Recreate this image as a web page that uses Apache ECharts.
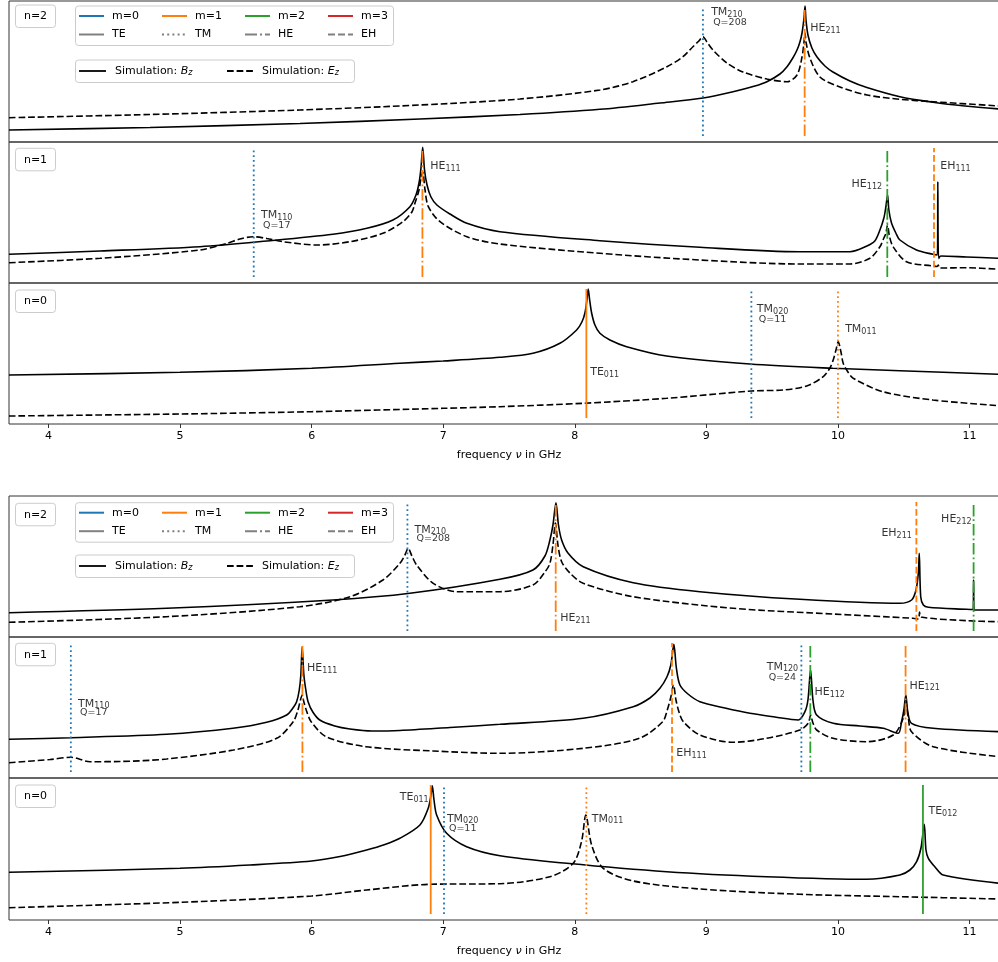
<!DOCTYPE html>
<html><head><meta charset="utf-8">
<script src="https://cdn.jsdelivr.net/npm/echarts@6/dist/echarts.min.js"></script>
<style>html,body{margin:0;padding:0;background:#fff}#c{width:998px;height:962px}</style>
</head><body><div id="c"></div>
<script>
// ================= DATA =================
const xTicks = [4, 5, 6, 7, 8, 9, 10, 11];
const panelLabels = ['n=2', 'n=1', 'n=0', 'n=2', 'n=1', 'n=0'];
const legendM = ['m=0', 'm=1', 'm=2', 'm=3'];
const legendKinds = ['TE', 'TM', 'HE', 'EH'];

// ---- upper figure ----
const up_n2_Bz = [[3.700,12],[4.771,14.5],[5.911,18.5],[6.823,23],[7.583,27.5],[8.191,32.7],[8.647,39],[8.974,44],[9.202,50.3],[9.369,56],[9.460,60.3],[9.559,68],[9.613,75.3],[9.657,84],[9.689,92],[9.711,100],[9.727,109],[9.742,124],[9.750,136],[9.757,122],[9.772,107],[9.802,94],[9.841,85],[9.901,76],[9.962,70],[10.091,61],[10.220,54.5],[10.471,45.3],[10.722,39.8],[10.964,36],[11.23,33]];
const up_n2_Ez = [[3.700,24.3],[4.771,27.5],[5.911,32],[6.823,37],[7.583,43],[8.191,52],[8.442,60.3],[8.700,75.3],[8.822,85.3],[8.898,95.3],[8.943,101],[8.974,105.3],[9.004,100],[9.050,92],[9.156,79],[9.278,70],[9.460,63],[9.613,60.3],[9.689,67],[9.727,85],[9.742,100],[9.750,109],[9.757,100],[9.787,84],[9.863,65],[10.015,55],[10.220,47],[10.471,42.7],[10.722,40.3],[11.23,36]];
const up_n1_Bz = [[3.700,28.7],[4.392,32],[5.151,36.3],[5.660,42],[6.162,48.7],[6.420,54.7],[6.618,63],[6.747,76.3],[6.793,88],[6.816,100],[6.831,115],[6.844,135.7],[6.858,113],[6.877,98],[6.907,86],[6.952,78],[7.051,69],[7.180,59.7],[7.431,51.3],[8.191,42.3],[8.951,35.7],[9.711,31.3],[10.091,31.3],[10.220,37],[10.280,42],[10.319,53],[10.349,65],[10.364,76],[10.377,88],[10.387,73],[10.407,60],[10.440,50],[10.471,43],[10.597,33],[10.722,28.7],[10.756,28],[10.759,101.3],[10.765,24.5],[10.782,27],[10.977,26],[11.23,24.7]];
const up_n1_Ez = [[3.700,20.3],[4.392,24.7],[5.151,33],[5.357,39.7],[5.455,44],[5.554,46.3],[5.660,44.5],[5.782,41.3],[6.040,38],[6.291,41.3],[6.542,49.7],[6.694,61.3],[6.762,71],[6.785,79.7],[6.816,93],[6.831,105],[6.844,111],[6.862,93],[6.887,76.3],[6.976,61.3],[7.180,46.3],[7.431,39],[8.191,29.7],[8.951,23],[9.711,19],[10.091,19],[10.243,24.7],[10.319,36.3],[10.349,45],[10.364,49.7],[10.377,58],[10.391,47],[10.419,36.3],[10.521,21.3],[10.722,17],[10.752,16.5],[10.763,18],[10.771,15],[10.977,15.3],[11.23,13.7]];
const up_n0_Bz = [[3.700,49],[4.999,51.7],[6.000,55.7],[6.671,60.7],[6.998,63],[7.431,66.7],[7.682,70.7],[7.887,80.7],[8.014,94],[8.054,102],[8.077,111],[8.092,124],[8.102,135],[8.113,124],[8.128,111],[8.153,99],[8.191,90.7],[8.267,84],[8.394,77.3],[8.698,68],[9.331,60],[9.961,55.7],[10.471,53.3],[11.23,49.7]];
const up_n0_Ez = [[3.700,8],[4.999,10],[6.000,12.3],[6.998,15.7],[7.431,17.3],[8.062,20.7],[8.698,25.7],[9.344,33],[9.582,34],[9.762,38],[9.888,47.3],[9.939,56],[9.964,64],[9.985,74],[10.002,82.3],[10.023,72],[10.040,60.7],[10.076,52],[10.116,45.7],[10.341,32.3],[10.721,24],[11.23,18.3]];

// ---- lower figure ----
const lo_n2_Bz = [[3.700,24.3],[4.898,28.7],[6.162,37],[6.747,43.7],[7.431,57.7],[7.682,67],[7.773,81],[7.811,97],[7.834,112],[7.857,134.3],[7.876,112],[7.900,97],[7.948,84],[8.064,70.3],[8.444,54.3],[8.951,45.3],[9.711,37.7],[10.471,33.7],[10.560,37],[10.593,47],[10.611,64],[10.618,83.7],[10.629,40.3],[10.649,32],[10.687,29.7],[10.977,27.7],[11.028,27.5],[11.031,57],[11.035,27],[11.23,27]];
const lo_n2_Ez = [[3.700,14.7],[4.898,20.3],[5.911,30.3],[6.291,40.3],[6.542,57],[6.671,73.7],[6.709,82],[6.734,88.7],[6.762,81],[6.798,72],[6.924,53.7],[7.102,45.3],[7.431,45.3],[7.682,52],[7.773,65],[7.811,73.7],[7.834,92],[7.853,114],[7.872,92],[7.900,75.3],[7.963,64],[8.064,53.7],[8.444,40.3],[9.204,28.7],[9.961,23],[10.570,18.7],[10.612,18],[10.620,25],[10.631,20],[10.977,16.3],[11.23,15.3]];
const lo_n1_Bz = [[3.700,38.7],[4.171,40.3],[4.898,43.7],[5.402,49.7],[5.658,55.7],[5.810,63],[5.858,70],[5.886,76.3],[5.906,88],[5.918,103],[5.928,131.3],[5.941,103],[5.956,88],[5.973,76.3],[6.009,66],[6.062,58],[6.176,52],[6.291,49],[6.458,47],[6.671,47.5],[7.051,50.5],[7.431,53.7],[8.064,59.7],[8.444,71.3],[8.571,80],[8.647,89.7],[8.700,101],[8.730,113],[8.753,133.7],[8.772,110],[8.799,93],[8.860,84],[8.951,76.3],[9.141,70],[9.331,64.7],[9.521,61],[9.698,58],[9.749,66.3],[9.772,78],[9.792,108],[9.810,78],[9.838,63],[9.964,54.7],[10.167,52],[10.344,49.7],[10.458,44.7],[10.483,56],[10.501,68],[10.516,83],[10.531,66],[10.559,54.7],[10.724,49.7],[11.23,46.3]];
const lo_n1_Ez = [[3.700,15.3],[4.012,18.5],[4.171,20.7],[4.316,16.3],[4.543,16.5],[4.898,19],[5.405,28],[5.734,39.7],[5.860,56.3],[5.896,68],[5.915,78],[5.928,83],[5.941,76],[5.964,66],[5.996,56.3],[6.110,41.3],[6.414,31.3],[6.924,27],[7.431,24.7],[8.064,29.7],[8.491,39.7],[8.668,56.3],[8.703,68],[8.730,81],[8.750,93],[8.769,78],[8.792,66],[8.825,56.3],[8.951,43],[9.204,35.7],[9.458,39.7],[9.711,48],[9.774,54.7],[9.792,63],[9.810,55],[9.838,48],[9.962,39.7],[10.217,36.3],[10.420,43],[10.496,59.7],[10.516,75],[10.535,60],[10.559,46.3],[10.724,31.3],[11.23,21.3]];
const lo_n0_Bz = [[3.700,47.7],[4.999,51.7],[5.532,55],[6.000,59],[6.216,63.5],[6.418,70],[6.557,75.5],[6.671,81.7],[6.823,95],[6.886,111.7],[6.907,125],[6.917,134.3],[6.930,120],[6.950,105],[7.026,86.7],[7.178,73.3],[7.431,64.3],[7.938,56.7],[8.698,48.3],[9.458,43.3],[10.217,40.7],[10.471,45],[10.547,50],[10.598,58.3],[10.631,72],[10.656,95.7],[10.669,70],[10.687,61.7],[10.738,53],[10.800,45],[11.23,36.7]];
const lo_n0_Ez = [[3.700,12.3],[4.999,17.7],[6.000,24],[6.418,30],[6.899,35.7],[7.431,36.3],[7.811,43.3],[7.988,56.7],[8.051,78.3],[8.084,105],[8.128,75],[8.216,51.7],[8.444,39],[8.951,31],[9.711,25.7],[10.471,23.3],[11.23,21]];

// ---- resonance modes (frequency GHz, m index, family, subscript, Q) ----
const up_n2_modes = [{f:8.974,m:0,kind:'TM',idx:'210',q:'Q=208'},{f:9.747,m:1,kind:'HE',idx:'211'}];
const up_n1_modes = [{f:5.560,m:0,kind:'TM',idx:'110',q:'Q=17'},{f:6.842,m:1,kind:'HE',idx:'111'},{f:10.375,m:2,kind:'HE',idx:'112'},{f:10.730,m:1,kind:'EH',idx:'111'}];
const up_n0_modes = [{f:8.088,m:1,kind:'TE',idx:'011'},{f:9.342,m:0,kind:'TM',idx:'020',q:'Q=11'},{f:10.000,m:1,kind:'TM',idx:'011'}];
const lo_n2_modes = [{f:6.728,m:0,kind:'TM',idx:'210',q:'Q=208'},{f:7.855,m:1,kind:'HE',idx:'211'},{f:10.596,m:1,kind:'EH',idx:'211'},{f:11.031,m:2,kind:'HE',idx:'212'}];
const lo_n1_modes = [{f:4.170,m:0,kind:'TM',idx:'110',q:'Q=17'},{f:5.930,m:1,kind:'HE',idx:'111'},{f:8.739,m:1,kind:'EH',idx:'111'},{f:9.722,m:0,kind:'TM',idx:'120',q:'Q=24'},{f:9.790,m:2,kind:'HE',idx:'112'},{f:10.514,m:1,kind:'HE',idx:'121'}];
const lo_n0_modes = [{f:6.905,m:1,kind:'TE',idx:'011'},{f:7.006,m:0,kind:'TM',idx:'020',q:'Q=11'},{f:8.088,m:1,kind:'TM',idx:'011'},{f:10.646,m:2,kind:'TE',idx:'012'}];

// ================= LAYOUT / STYLE =================
const FONT = 'DejaVu Sans';
const X_MIN = 3.7, X_MAX = 11.3;
const GRID_LEFT = 9, GRID_W = 1000;
const gridTops = [1, 142, 283, 496, 637, 778];
const gridHs = [141, 141, 141, 141, 141, 142];
const modeSpan = [6, 135];
const colorsM = ['#1f77b4', '#ff7f0e', '#2ca02c', '#d62728'];
const dashKind = { TE: 'solid', TM: [1.8, 3.0], HE: [11.5, 2.9, 1.8, 2.9], EH: [6.7, 2.9] };
const EZ_DASH = [6.7, 2.9];

// label placement per mode (side, distance px, text-centre level, Q-line level)
const placements = [
  [{s:'right',d:7.7,h:129.5,qh:119.5},{s:'right',d:5,h:113.8}],
  [{s:'right',d:6.7,h:68,qh:57.5},{s:'right',d:7.3,h:117},{s:'left',d:4.7,h:99},{s:'right',d:5.7,h:117}],
  [{s:'right',d:3.3,h:52},{s:'right',d:5,h:115,qh:104},{s:'right',d:6.7,h:95}],
  [{s:'right',d:6.6,h:107.3,qh:98},{s:'right',d:4,h:19},{s:'left',d:4,h:104},{s:'left',d:1.5,h:118}],
  [{s:'right',d:6.7,h:74.3,qh:65.2},{s:'right',d:4,h:109.5},{s:'right',d:3.7,h:24.5},{s:'left',d:2.7,h:111.3,qh:100.8},{s:'right',d:3.6,h:85.5},{s:'right',d:3.3,h:92.2}],
  [{s:'left',d:1.5,h:123},{s:'right',d:2.4,h:101.3,qh:91.7},{s:'right',d:5,h:101.3},{s:'right',d:5,h:108.7}]
];

const panels = [
  {Bz: up_n2_Bz, Ez: up_n2_Ez, modes: up_n2_modes},
  {Bz: up_n1_Bz, Ez: up_n1_Ez, modes: up_n1_modes},
  {Bz: up_n0_Bz, Ez: up_n0_Ez, modes: up_n0_modes},
  {Bz: lo_n2_Bz, Ez: lo_n2_Ez, modes: lo_n2_modes},
  {Bz: lo_n1_Bz, Ez: lo_n1_Ez, modes: lo_n1_modes},
  {Bz: lo_n0_Bz, Ez: lo_n0_Ez, modes: lo_n0_modes}
];

const rich = {
  t: {fontFamily: FONT, fontSize: 11, color: '#000', lineHeight: 13},
  s: {fontFamily: FONT, fontSize: 8, color: '#000', lineHeight: 9, verticalAlign: 'bottom'},
  q: {fontFamily: FONT, fontSize: 9.5, color: '#000', lineHeight: 11}
};

const grids = [], xAxes = [], yAxes = [], series = [];
panels.forEach((p, i) => {
  const bottomPanel = (i === 2 || i === 5);
  grids.push({left: GRID_LEFT, top: gridTops[i], width: GRID_W, height: gridHs[i], show: true,
    outerBoundsMode: 'none', containLabel: false,
    borderColor: '#333', borderWidth: 1, backgroundColor: 'transparent'});
  xAxes.push({type: 'value', gridIndex: i, min: X_MIN, max: X_MAX,
    axisLine: {show: false}, splitLine: {show: false},
    axisTick: {show: bottomPanel, length: 4, lineStyle: {color: '#333'}, customValues: xTicks},
    axisLabel: {show: bottomPanel, customValues: xTicks, margin: 7, color: '#000', fontFamily: FONT, fontSize: 11},
    name: bottomPanel ? 'frequency {i|ν} in GHz' : '', nameLocation: 'middle', nameGap: 26,
    nameTextStyle: {fontFamily: FONT, fontSize: 11, color: '#000',
      rich: {i: {fontFamily: FONT, fontStyle: 'italic', fontSize: 11, color: '#000'}}}});
  yAxes.push({type: 'value', gridIndex: i, min: 0, max: gridHs[i], show: false});

  // mode markers
  p.modes.forEach(md => {
    series.push({type: 'line', xAxisIndex: i, yAxisIndex: i, symbol: 'none', silent: true, z: 4,
      data: [[md.f, modeSpan[0]], [md.f, modeSpan[1]]],
      lineStyle: {color: colorsM[md.m], width: 1.8, type: dashKind[md.kind], cap: 'butt'}});
  });
  // simulation curves
  series.push({type: 'line', xAxisIndex: i, yAxisIndex: i, symbol: 'none', silent: true, z: 3,
    smooth: 0.3, data: p.Bz, lineStyle: {color: '#000', width: 1.6}});
  series.push({type: 'line', xAxisIndex: i, yAxisIndex: i, symbol: 'none', silent: true, z: 3,
    smooth: 0.3, data: p.Ez, lineStyle: {color: '#000', width: 1.6, type: EZ_DASH}});
  // annotations
  const items = [];
  p.modes.forEach((md, j) => {
    const pl = placements[i][j];
    items.push({value: [md.f, pl.h], label: {show: true, position: pl.s, distance: pl.d,
      formatter: '{t|' + md.kind + '}{s|' + md.idx + '}', rich: rich}});
    if (md.q) items.push({value: [md.f, pl.qh], label: {show: true, position: pl.s, distance: pl.d + 2,
      formatter: '{q|' + md.q + '}', rich: rich}});
  });
  series.push({type: 'scatter', xAxisIndex: i, yAxisIndex: i, symbolSize: 1, silent: true, z: 6,
    itemStyle: {color: 'rgba(0,0,0,0)'}, data: items});
});

// ================= LEGENDS (graphic) =================
const graphics = [];
function box(x, y, w, h) {
  graphics.push({type: 'rect', z: 100, shape: {x: x, y: y, width: w, height: h, r: 3},
    style: {fill: 'rgba(255,255,255,0.85)', stroke: '#cccccc', lineWidth: 1}});
}
function seg(x1, x2, y, color, width, dash) {
  graphics.push({type: 'line', z: 101, shape: {x1: x1, y1: y, x2: x2, y2: y},
    style: {stroke: color, lineWidth: width, lineDash: dash || null}});
}
function txt(x, y, s, extra) {
  graphics.push(Object.assign({type: 'text', z: 102, x: x, y: y,
    style: Object.assign({text: s, fill: '#000', fontFamily: FONT, fontSize: 11,
      align: 'left', verticalAlign: 'middle', textAlign: 'left', textVerticalAlign: 'middle'}, extra || {})}));
}
const nBoxTops = [5, 148.3, 290, 503.3, 643.3, 785];
panelLabels.forEach((lab, i) => {
  box(15.5, nBoxTops[i], 40, 22.5);
  txt(35.5, nBoxTops[i] + 11.5, lab, {align: 'center', textAlign: 'center'});
});
function mainLegend(t1, t2) {
  box(75.5, t1, 318, 39.5);
  const xs = [79, 162, 245, 328];
  const r1 = t1 + 10, r2 = t1 + 28.5;
  const kindDash = [null, [2, 3.2], [12, 3, 2, 3], [7, 3]];
  legendM.forEach((s, k) => { seg(xs[k], xs[k] + 25, r1, colorsM[k], 2); txt(xs[k] + 33, r1, s); });
  legendKinds.forEach((s, k) => { seg(xs[k], xs[k] + 25, r2, '#808080', 2, kindDash[k]); txt(xs[k] + 33, r2, s); });
  box(75.5, t2, 279, 22.5);
  const r3 = t2 + 11;
  const simRich = {i: {fontFamily: FONT, fontStyle: 'italic', fontSize: 11, color: '#000'},
                   s: {fontFamily: FONT, fontStyle: 'italic', fontSize: 8, color: '#000', verticalAlign: 'bottom', lineHeight: 9}};
  seg(79, 106, r3, '#000', 1.8);
  txt(115, r3, 'Simulation: {i|B}{s|z}', {rich: simRich});
  seg(227, 253, r3, '#000', 1.8, EZ_DASH);
  txt(262, r3, 'Simulation: {i|E}{s|z}', {rich: simRich});
}
mainLegend(6, 60);
mainLegend(502.7, 555);

const chart = echarts.init(document.getElementById('c'), null, {renderer: 'canvas'});
chart.setOption({
  animation: false,
  backgroundColor: '#fff',
  grid: grids, xAxis: xAxes, yAxis: yAxes, series: series,
  graphic: {elements: graphics}
});
</script></body></html>
